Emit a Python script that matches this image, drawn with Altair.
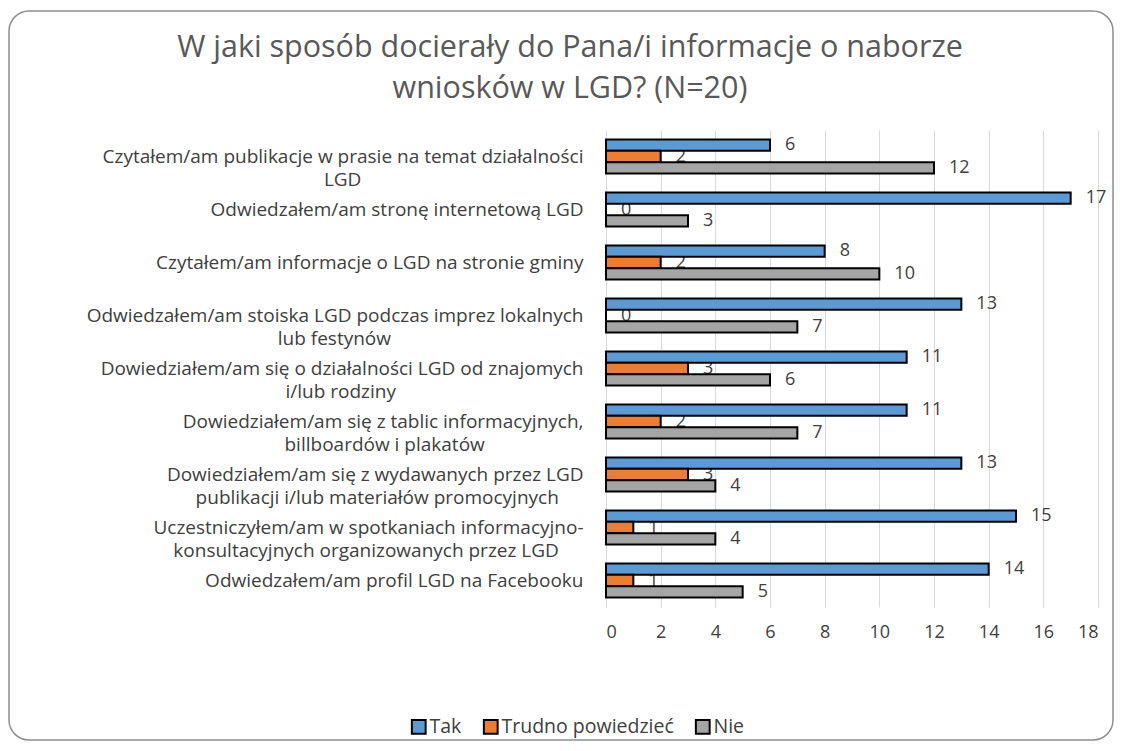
import altair as alt
import pandas as pd

# ---- data ----
line1 = [
    "Czytałem/am publikacje w prasie na temat działalności",
    "Odwiedzałem/am stronę internetową LGD",
    "Czytałem/am informacje o LGD na stronie gminy",
    "Odwiedzałem/am stoiska LGD podczas imprez lokalnych",
    "Dowiedziałem/am się o działalności LGD od znajomych",
    "Dowiedziałem/am się z tablic informacyjnych,",
    "Dowiedziałem/am się z wydawanych przez LGD",
    "Uczestniczyłem/am w spotkaniach informacyjno-",
    "Odwiedzałem/am profil LGD na Facebooku",
]
line2 = [
    "LGD",
    "",
    "",
    "lub festynów",
    "i/lub rodziny",
    "billboardów i plakatów",
    "publikacji i/lub materiałów promocyjnych",
    "konsultacyjnych organizowanych przez LGD",
    "",
]
series = ["Tak", "Trudno powiedzieć", "Nie"]
tak = [6, 17, 8, 13, 11, 11, 13, 15, 14]
trudno = [2, 0, 2, 0, 3, 2, 3, 1, 1]
nie = [12, 3, 10, 7, 6, 7, 4, 4, 5]
colors = ["#5B9BD5", "#ED7D31", "#A5A5A5"]
x_ticks = [0, 2, 4, 6, 8, 10, 12, 14, 16, 18]
title_lines = ["W jaki sposób docierały do Pana/i informacje o naborze",
               "wniosków w LGD? (N=20)"]

FONT = "Open Sans"
NBSP = "\u00a0"
ZWSP = "\u200b"

# approximate Open Sans advance widths (em) – used only to centre the 2nd label line
_W = {
    "a": .556, "b": .613, "c": .48, "d": .613, "e": .561, "f": .336, "g": .546,
    "h": .614, "i": .258, "j": .258, "k": .53, "l": .258, "m": .932, "n": .614,
    "o": .604, "p": .613, "q": .613, "r": .409, "s": .477, "t": .353, "u": .614,
    "v": .501, "w": .778, "x": .524, "y": .501, "z": .47, " ": .26, "/": .371,
    ",": .245, "-": .322, "ł": .27, "ę": .561, "ą": .556, "ś": .477, "ć": .48,
    "ó": .604, "ż": .47, "ń": .614, "L": .517, "G": .698, "D": .729, "C": .63,
    "O": .779, "U": .722, "F": .505,
}


def _width(s):
    return sum(_W.get(ch, .6) for ch in s)


categories = []
for a, b in zip(line1, line2):
    if b:
        pad = max(0, round((_width(a) - _width(b)) / 2 / 0.26))
        categories.append(a + "|" + b + NBSP * pad + ZWSP)
    else:
        categories.append(a)

rows = []
for i, c in enumerate(categories):
    for s, vals in zip(series, [tak, trudno, nie]):
        rows.append({"cat": c, "series": s, "value": vals[i], "order": i})
df = pd.DataFrame(rows)

y_enc = alt.Y("cat:N", sort=categories, title=None,
              scale=alt.Scale(paddingInner=0.36, paddingOuter=0.18),
              axis=alt.Axis(labelExpr="split(datum.label, '|')", labelAlign="right",
                            labelBaseline="middle", labelLineHeight=23,
                            labelFontSize=19, labelFont=FONT, labelColor="#404040",
                            labelPadding=23, labelLimit=600, ticks=False,
                            domain=False, grid=False))
yoff = alt.YOffset("series:N", sort=series, scale=alt.Scale(paddingInner=0, paddingOuter=0))
x_enc = alt.X("value:Q", title=None,
              scale=alt.Scale(domain=[0, 18], nice=False),
              axis=alt.Axis(values=x_ticks, grid=True, gridColor="#d9d9d9",
                            gridWidth=1, domain=False, ticks=False,
                            labelFontSize=18, labelFont=FONT, labelColor="#404040",
                            labelPadding=16))

bars = alt.Chart(df).mark_bar(stroke="black", strokeWidth=2).encode(
    x=x_enc, y=y_enc, yOffset=yoff,
    color=alt.Color("series:N", sort=series,
                    scale=alt.Scale(domain=series, range=colors),
                    legend=alt.Legend(orient="none", legendX=-197, legendY=587,
                                      direction="horizontal", title=None,
                                      symbolType="square", symbolSize=190,
                                      symbolStrokeColor="black", symbolStrokeWidth=2,
                                      labelFontSize=19.5, labelFont=FONT,
                                      labelColor="#404040", labelOffset=1,
                                      labelLimit=400, columnPadding=17)),
)

labels = alt.Chart(df).mark_text(align="left", baseline="middle", dx=15,
                                 fontSize=18, font=FONT, color="#404040").encode(
    x=alt.X("value:Q"), y=alt.Y("cat:N", sort=categories), yOffset=yoff,
    text=alt.Text("value:Q"),
)

border = alt.Chart(pd.DataFrame({"a": [0]})).mark_rect(
    fill="white", fillOpacity=0, stroke="#8f8f8f", strokeWidth=1.5, cornerRadius=20
).encode(x=alt.value(-597), x2=alt.value(507), y=alt.value(-119), y2=alt.value(610))

chart = alt.layer(border, labels, bars).properties(
    width=492, height=477,
    title=alt.TitleParams(text=title_lines, fontSize=30.5, font=FONT, color="#595959",
                          fontWeight="normal", anchor="middle", dx=-282, dy=94,
                          lineHeight=41, offset=0),
    padding={"left": 598, "top": 122, "right": 17, "bottom": 134},
    autosize="none",
).configure_view(stroke=None)

chart.save("out.html", embed_options={"renderer": "svg", "actions": False})
